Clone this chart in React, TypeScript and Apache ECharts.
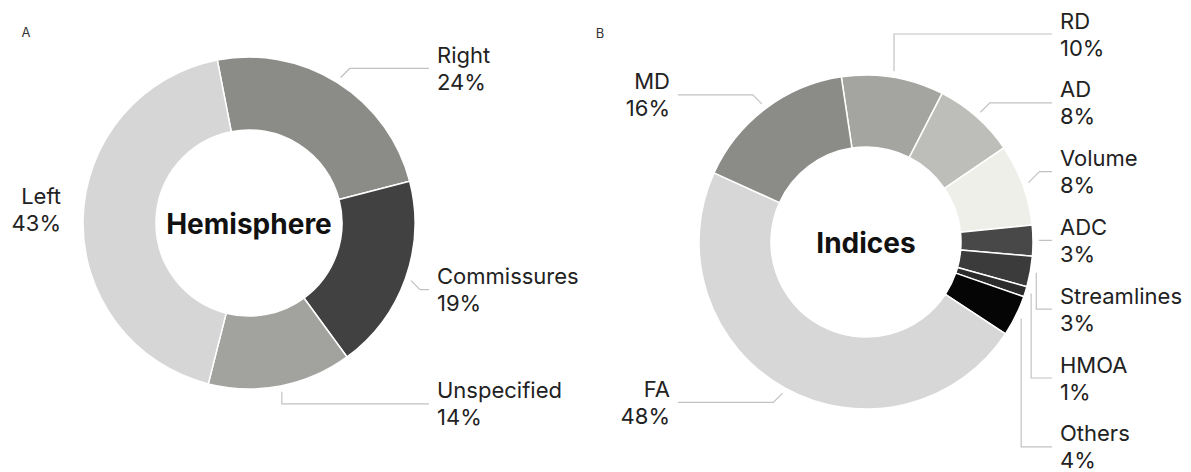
import React, { useEffect, useRef } from 'react';
import * as echarts from 'echarts';

// ---- Data ----
const hemisphereNames = ['Right', 'Commissures', 'Unspecified', 'Left'];
const hemisphereValues = [24, 19, 14, 43];
const hemisphereColors = ['#8b8b87', '#414141', '#a2a29f', '#d6d6d6'];

const indexNames = ['RD', 'AD', 'Volume', 'ADC', 'Streamlines', 'HMOA', 'Others', 'FA', 'MD'];
const indexValues = [10, 8, 8, 3, 3, 1, 4, 48, 16];
const indexColors = ['#a4a4a1', '#bdbdb9', '#efefea', '#484848', '#3b3b3b', '#2c2c2c', '#050505', '#d7d7d7', '#8b8b88'];

const panelLabels = ['A', 'B'];
const centerTitles = ['Hemisphere', 'Indices'];
const noLineLabels = ['Left'];

const FONT = 'Inter, "Liberation Sans", Arial, sans-serif';

interface Geom {
  cx: number; cy: number; r0: number; r: number; startAngle: number;
  rightX: number; leftX: number; column: boolean; columnTop: number; columnStep: number;
  panelX: number; panelY: number;
}

const geomA: Geom = { cx: 249, cy: 223, r0: 93, r: 166, startAngle: 101, rightX: 437, leftX: 61, column: false, columnTop: 0, columnStep: 0, panelX: 26, panelY: 32 };
const geomB: Geom = { cx: 866, cy: 242, r0: 95, r: 167, startAngle: 98.5, rightX: 1060, leftX: 670, column: true, columnTop: 34, columnStep: 68.8, panelX: 600, panelY: 33 };

function midAngles(values: number[], start: number) {
  const total = values.reduce((a, b) => a + b, 0);
  let acc = 0;
  return values.map((v) => {
    const m = start - ((acc + v / 2) / total) * 360;
    acc += v;
    return m;
  });
}

function makeLabelLayout(g: Geom, values: number[]) {
  const mids = midAngles(values, g.startAngle);
  const isRight = mids.map((m) => Math.cos((m * Math.PI) / 180) >= 0);
  return (params: any) => {
    const i = params.dataIndex;
    const rad = (mids[i] * Math.PI) / 180;
    let ux = Math.cos(rad);
    let uy = -Math.sin(rad);
    const pts = params.labelLinePoints;
    if (pts && pts[0]) {
      const dx = pts[0][0] - g.cx;
      const dy = pts[0][1] - g.cy;
      const l = Math.hypot(dx, dy);
      if (l > 0) { ux = dx / l; uy = dy / l; }
    }
    const right = isRight[i];
    const sign = right ? 1 : -1;
    const labelX = right ? g.rightX : g.leftX;
    const align = right ? 'left' : 'right';
    if (!pts) return { x: labelX, y: g.cy, align, verticalAlign: 'middle' };
    const ax = g.cx + ux * (g.r + 6);
    const ay = g.cy + uy * (g.r + 6);
    let ly: number;
    if (g.column && right) {
      let rank = 0;
      for (let k = 0; k < i; k++) if (isRight[k]) rank++;
      ly = g.columnTop + rank * g.columnStep;
    } else {
      ly = ay + (uy < 0 ? -1 : 1) * (Math.abs(ux) < 0.3 ? 12 : 9);
    }
    const d = Math.abs(ly - ay);
    const ex = d <= 14 && Math.abs(ux) >= 0.3 ? ax + sign * d : ax;
    return {
      x: labelX,
      y: ly,
      align,
      verticalAlign: 'middle',
      labelLinePoints: [[ax, ay], [ex, ly], [labelX - sign * 8, ly]],
    };
  };
}

function pieSeries(g: Geom, names: string[], values: number[], colors: string[]) {
  return {
    type: 'pie',
    center: [g.cx, g.cy],
    radius: [g.r0, g.r],
    startAngle: g.startAngle,
    clockwise: true,
    avoidLabelOverlap: false,
    silent: true,
    itemStyle: { borderColor: '#ffffff', borderWidth: 1.5 },
    label: {
      show: true,
      position: 'outside',
      formatter: '{b}\n{c}%',
      fontFamily: FONT,
      fontSize: 22,
      lineHeight: 27,
      color: '#222222',
      width: 220,
      overflow: 'none',
    },
    labelLine: { show: true, length: 10, length2: 10, smooth: false, lineStyle: { color: '#c2c2c2', width: 1.2 } },
    labelLayout: makeLabelLayout(g, values),
    emphasis: { disabled: true },
    data: names.map((n, i) => ({
      name: n,
      value: values[i],
      itemStyle: { color: colors[i] },
      ...(noLineLabels.includes(n) ? { labelLine: { show: false } } : {}),
    })),
  };
}

export default function App() {
  const ref = useRef<HTMLDivElement>(null);
  useEffect(() => {
    if (!ref.current) return;
    const chart = echarts.init(ref.current, null, { renderer: 'svg' });
    const geoms = [geomA, geomB];
    chart.setOption({
      animation: false,
      backgroundColor: '#ffffff',
      graphic: [
        ...geoms.map((g, i) => ({
          type: 'text',
          x: g.panelX,
          y: g.panelY,
          silent: true,
          style: { text: panelLabels[i], fontFamily: FONT, fontSize: 13, fill: '#333333', align: 'center', verticalAlign: 'middle' },
        })),
        ...geoms.map((g, i) => ({
          type: 'text',
          x: g.cx,
          y: g.cy + 1,
          silent: true,
          style: { text: centerTitles[i], fontFamily: FONT, fontSize: 28, fontWeight: 'bold', fill: '#111111', align: 'center', verticalAlign: 'middle' },
        })),
      ],
      series: [
        pieSeries(geomA, hemisphereNames, hemisphereValues, hemisphereColors),
        pieSeries(geomB, indexNames, indexValues, indexColors),
      ],
    });
    return () => chart.dispose();
  }, []);
  return (
    <div
      ref={ref}
      style={{ position: 'fixed', left: 0, top: 0, width: 1191, height: 472, background: '#ffffff' }}
    />
  );
}
